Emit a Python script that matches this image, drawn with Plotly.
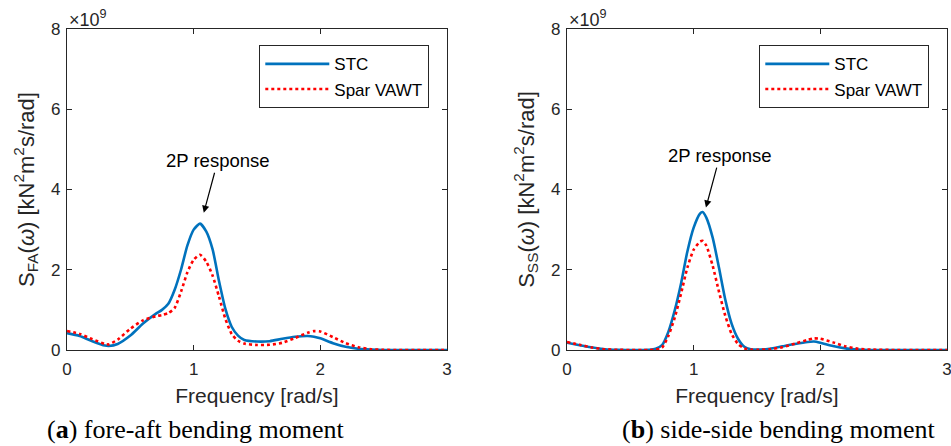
import plotly.graph_objects as go

# ---------------- data (values in units of 1e9) ----------------
freq_a = [0, 0.1, 0.2, 0.3, 0.33, 0.4, 0.5, 0.6, 0.7, 0.75, 0.8, 0.85, 0.9, 0.95, 1.0, 1.05,
          1.1, 1.15, 1.2, 1.25, 1.3, 1.35, 1.4, 1.5, 1.6, 1.7, 1.8, 1.9, 1.95, 2.0, 2.1, 2.2,
          2.3, 2.4, 2.5, 2.6, 2.8, 3.0]
stc_a = [0.42, 0.35, 0.22, 0.11, 0.10, 0.15, 0.36, 0.66, 0.90, 1.0, 1.15, 1.5, 2.0, 2.6, 3.0, 3.15,
         2.95, 2.5, 1.72, 1.03, 0.58, 0.36, 0.25, 0.21, 0.22, 0.28, 0.33, 0.35, 0.33, 0.29, 0.17, 0.08,
         0.03, 0.01, 0.0, 0.0, 0.0, 0.0]
spar_a = [0.475, 0.40, 0.27, 0.15, 0.14, 0.26, 0.53, 0.74, 0.84, 0.87, 0.92, 1.05, 1.45, 1.93, 2.25, 2.375,
          2.2, 1.85, 1.33, 0.78, 0.4, 0.23, 0.16, 0.125, 0.13, 0.18, 0.3, 0.43, 0.47, 0.46, 0.32, 0.17,
          0.07, 0.02, 0.005, 0.0, 0.0, 0.0]

freq_b = [0, 0.1, 0.2, 0.3, 0.4, 0.5, 0.6, 0.65, 0.7, 0.75, 0.8, 0.85, 0.9, 0.95, 1.0, 1.05, 1.07,
          1.1, 1.15, 1.2, 1.25, 1.3, 1.35, 1.4, 1.45, 1.5, 1.6, 1.7, 1.8, 1.9, 1.95, 2.0, 2.1, 2.2,
          2.3, 2.4, 2.6, 2.8, 3.0]
stc_b = [0.18, 0.12, 0.06, 0.02, 0.005, 0.0, 0.0, 0.005, 0.03, 0.12, 0.45, 0.98, 1.65, 2.45, 3.05, 3.4, 3.44,
         3.3, 2.8, 2.05, 1.25, 0.65, 0.28, 0.08, 0.02, 0.01, 0.03, 0.09, 0.15, 0.2, 0.21, 0.18, 0.1, 0.04,
         0.01, 0.0, 0.0, 0.0, 0.0]
spar_b = [0.2, 0.13, 0.06, 0.02, 0.005, 0.0, 0.0, 0.0, 0.01, 0.06, 0.35, 0.8, 1.4, 2.05, 2.5, 2.7, 2.72,
          2.6, 2.1, 1.45, 0.85, 0.4, 0.15, 0.04, 0.01, 0.005, 0.02, 0.07, 0.16, 0.25, 0.29, 0.28, 0.19, 0.09,
          0.03, 0.01, 0.0, 0.0, 0.0]

series_names = ["STC", "Spar VAWT"]
x_ticks = [0, 1, 2, 3]
y_ticks = [0, 2, 4, 6, 8]
captions = ["(<b>a</b>) fore-aft bending moment", "(<b>b</b>) side-side bending moment"]
y_titles = ["S<sub>FA</sub>(<i>ω</i>) [kN<sup>2</sup>m<sup>2</sup>s/rad]",
            "S<sub>SS</sub>(<i>ω</i>) [kN<sup>2</sup>m<sup>2</sup>s/rad]"]

# ---------------- layout constants ----------------
W, H = 951, 446
BLUE = "#0072BD"
RED = "#FF0000"
DARK = "#262626"
SANS = "Liberation Sans, Arial, sans-serif"
SERIF = "Liberation Serif, Times New Roman, serif"

def px_x(p):
    return p / W

def px_y(p):
    return (H - p) / H

ydom = [px_y(350), px_y(29)]
xdom1 = [px_x(67), px_x(447)]
xdom2 = [px_x(567), px_x(947)]

fig = go.Figure()

line_kw = dict(width=2.6, shape="spline", smoothing=0.6)
fig.add_trace(go.Scatter(x=freq_a, y=stc_a, name=series_names[0], mode="lines",
                         line=dict(color=BLUE, **line_kw),
                         xaxis="x", yaxis="y", legend="legend"))
fig.add_trace(go.Scatter(x=freq_a, y=spar_a, name=series_names[1], mode="lines",
                         line=dict(color=RED, dash="dot", **line_kw),
                         xaxis="x", yaxis="y", legend="legend"))
fig.add_trace(go.Scatter(x=freq_b, y=stc_b, name=series_names[0], mode="lines",
                         line=dict(color=BLUE, **line_kw),
                         xaxis="x2", yaxis="y2", legend="legend2"))
fig.add_trace(go.Scatter(x=freq_b, y=spar_b, name=series_names[1], mode="lines",
                         line=dict(color=RED, dash="dot", **line_kw),
                         xaxis="x2", yaxis="y2", legend="legend2"))

axis_common = dict(showline=True, linecolor=DARK, linewidth=1.4, mirror="ticks",
                   ticks="inside", ticklen=5, tickwidth=1.2, tickcolor=DARK,
                   showgrid=False, zeroline=False, automargin=False,
                   ticklabeloverflow="allow",
                   tickfont=dict(family=SANS, size=17, color=DARK))

xa = dict(axis_common, range=[0, 3], tickvals=x_ticks, ticklabelstandoff=3,
          title=dict(text="Frequency [rad/s]", font=dict(family=SANS, size=21, color=DARK), standoff=10))
ya = dict(axis_common, range=[0, 8], tickvals=y_ticks, ticklabelstandoff=2)

legend_common = dict(bgcolor="white", bordercolor=DARK, borderwidth=1.3,
                     font=dict(family=SANS, size=17, color="black"),
                     xanchor="right", yanchor="top", itemwidth=64, tracegroupgap=0)

ytitle_font = dict(family=SANS, size=22, color=DARK)
fig.update_layout(
    width=W, height=H, autosize=False,
    margin=dict(l=0, r=0, t=0, b=0, autoexpand=False),
    paper_bgcolor="white", plot_bgcolor="white",
    xaxis=dict(xa, domain=xdom1, anchor="y"),
    yaxis=dict(ya, domain=ydom, anchor="x",
               title=dict(text=y_titles[0], font=ytitle_font, standoff=10)),
    xaxis2=dict(xa, domain=xdom2, anchor="y2"),
    yaxis2=dict(ya, domain=ydom, anchor="x2",
                title=dict(text=y_titles[1], font=ytitle_font, standoff=10)),
    legend=dict(legend_common, x=px_x(429), y=px_y(45)),
    legend2=dict(legend_common, x=px_x(929), y=px_y(45)),
    showlegend=True,
)

annots = []
# 2P response arrows
annots.append(dict(xref="x", yref="y", x=1.08, y=3.42, ax=14, ay=-52, text="2P response",
                   showarrow=True, arrowhead=2, arrowsize=1.2, arrowwidth=1.2, arrowcolor="black",
                   font=dict(family=SANS, size=18.5, color="black")))
annots.append(dict(xref="x2", yref="y2", x=1.097, y=3.55, ax=14, ay=-52, text="2P response",
                   showarrow=True, arrowhead=2, arrowsize=1.2, arrowwidth=1.2, arrowcolor="black",
                   font=dict(family=SANS, size=18.5, color="black")))
# exponent labels
for xd in (xdom1, xdom2):
    annots.append(dict(xref="paper", yref="paper", x=xd[0], y=ydom[1], xanchor="left", yanchor="bottom",
                       text="×10<sup>9</sup>", showarrow=False, yshift=-3,
                       font=dict(family=SANS, size=18, color=DARK)))
# captions
annots.append(dict(xref="paper", yref="paper", x=px_x(196), y=px_y(429), xanchor="center", yanchor="middle",
                   text=captions[0], showarrow=False, font=dict(family=SERIF, size=26, color="black")))
annots.append(dict(xref="paper", yref="paper", x=px_x(778), y=px_y(429), xanchor="center", yanchor="middle",
                   text=captions[1], showarrow=False, font=dict(family=SERIF, size=26, color="black")))
fig.update_layout(annotations=annots)

fig.write_html("out.html")
